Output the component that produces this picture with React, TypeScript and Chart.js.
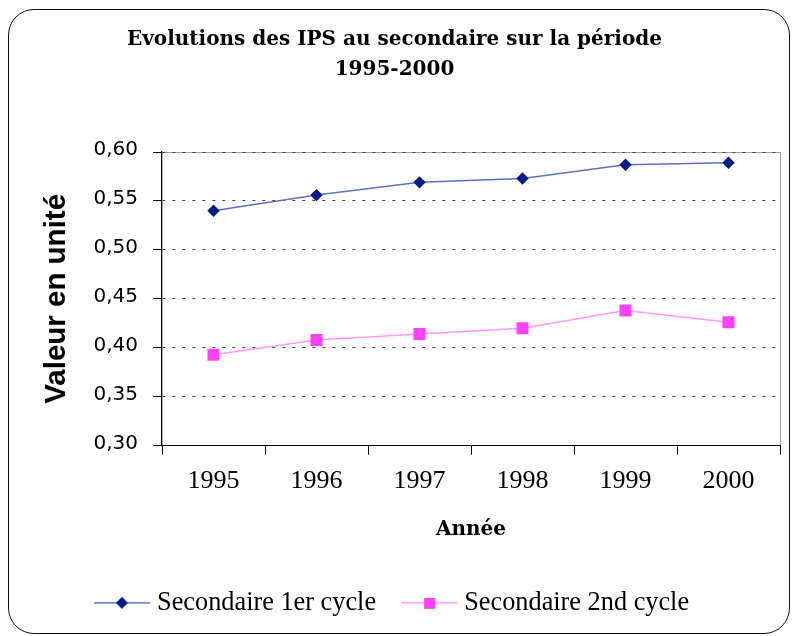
import React, { useEffect, useRef } from 'react';
import { Chart, registerables } from 'chart.js';

Chart.register(...registerables);

const years = ['1995', '1996', '1997', '1998', '1999', '2000'];
const cycle1 = [0.540, 0.556, 0.569, 0.573, 0.587, 0.589];
const cycle2 = [0.393, 0.408, 0.414, 0.420, 0.438, 0.426];
const seriesNames = ['Secondaire 1er cycle', 'Secondaire 2nd cycle'];
const titleLines = ['Evolutions des IPS au secondaire sur la période', '1995-2000'];
const xTitle = 'Année';
const yTitle = 'Valeur en unité';
const yMin = 0.3;
const yMax = 0.6;
const yStep = 0.05;

const C1_LINE = '#5f6fc2';
const C1_MARK = '#001a8c';
const C2_LINE = '#ff99ff';
const C2_MARK = '#ff40ff';

function legendMarker(line: string, fill: string, kind: 'diamond' | 'square') {
  const c = document.createElement('canvas');
  c.width = 56;
  c.height = 18;
  const g = c.getContext('2d')!;
  g.strokeStyle = line;
  g.lineWidth = 1.5;
  g.beginPath();
  g.moveTo(0, 9);
  g.lineTo(56, 9);
  g.stroke();
  g.fillStyle = fill;
  if (kind === 'diamond') {
    g.beginPath();
    g.moveTo(22, 9);
    g.lineTo(28, 3);
    g.lineTo(34, 9);
    g.lineTo(28, 15);
    g.closePath();
    g.fill();
  } else {
    g.fillRect(23, 4, 11, 11);
  }
  return c;
}

const plotFrame = {
  id: 'plotFrame',
  beforeDraw(chart: any) {
    const { ctx, chartArea } = chart;
    if (!chartArea) return;
    const { left, top, right, bottom } = chartArea;
    ctx.save();
    ctx.strokeStyle = '#a0a0a0';
    ctx.lineWidth = 1;
    ctx.beginPath();
    ctx.moveTo(left, Math.round(top) + 0.5);
    ctx.lineTo(Math.round(right) + 0.5, Math.round(top) + 0.5);
    ctx.lineTo(Math.round(right) + 0.5, bottom);
    ctx.stroke();
    ctx.restore();
  },
};

export default function App() {
  const ref = useRef<HTMLCanvasElement>(null);

  useEffect(() => {
    if (!ref.current) return;
    const m1 = legendMarker(C1_LINE, C1_MARK, 'diamond');
    const m2 = legendMarker(C2_LINE, C2_MARK, 'square');
    const chart = new Chart(ref.current, {
      type: 'line',
      data: {
        labels: years,
        datasets: [
          {
            label: seriesNames[0],
            data: cycle1,
            borderColor: C1_LINE,
            borderWidth: 1.5,
            pointStyle: 'rectRot',
            pointRadius: 6.2,
            pointBackgroundColor: C1_MARK,
            pointBorderWidth: 0,
            tension: 0,
          },
          {
            label: seriesNames[1],
            data: cycle2,
            borderColor: C2_LINE,
            borderWidth: 1.5,
            pointStyle: 'rect',
            pointRadius: 8.5,
            pointBackgroundColor: C2_MARK,
            pointBorderWidth: 0,
            tension: 0,
          },
        ],
      },
      options: {
        animation: false,
        responsive: false,
        events: [],
        layout: { padding: { left: 9, right: 12, top: 10, bottom: 10 } },
        plugins: {
          tooltip: { enabled: false },
          title: {
            display: true,
            text: titleLines,
            color: '#000',
            font: { family: 'DejaVu Serif', size: 20, weight: 'bold', lineHeight: 1.5 },
            padding: { top: 15, bottom: 67 },
          },
          legend: {
            position: 'bottom',
            labels: {
              usePointStyle: true,
              pointStyleWidth: 44,
              padding: 31,
              color: '#000',
              font: { family: 'Liberation Serif', size: 26.3 },
              generateLabels: () => [
                {
                  text: seriesNames[0],
                  pointStyle: m1 as any,
                  fillStyle: C1_MARK,
                  strokeStyle: C1_LINE,
                  lineWidth: 0,
                  hidden: false,
                  datasetIndex: 0,
                  fontColor: '#000',
                },
                {
                  text: seriesNames[1],
                  pointStyle: m2 as any,
                  fillStyle: C2_MARK,
                  strokeStyle: C2_LINE,
                  lineWidth: 0,
                  hidden: false,
                  datasetIndex: 1,
                  fontColor: '#000',
                },
              ],
            },
          },
        },
        scales: {
          x: {
            type: 'category',
            offset: true,
            grid: {
              offset: true,
              drawOnChartArea: false,
              drawTicks: true,
              tickLength: 9,
              tickColor: '#000',
              tickBorderDash: [],
            },
            border: { color: '#000', width: 1 },
            ticks: {
              color: '#000',
              font: { family: 'Liberation Serif', size: 26 },
              padding: 11,
              maxRotation: 0,
              autoSkip: false,
            },
            title: {
              display: true,
              text: xTitle,
              color: '#000',
              font: { family: 'DejaVu Serif', size: 20, weight: 'bold', lineHeight: 1.2 },
              padding: { top: 0, bottom: 17 },
            },
            afterFit: (s: any) => {
              s.height = 113;
            },
          },
          y: {
            min: yMin,
            max: yMax,
            grid: {
              color: '#444',
              lineWidth: 1,
              drawTicks: true,
              tickLength: 9,
              tickColor: '#000',
              tickBorderDash: [],
              borderDash: [3, 7],
            } as any,
            border: { color: '#000', width: 1.3, dash: [3, 7] },
            ticks: {
              stepSize: yStep,
              color: '#000',
              font: { family: 'DejaVu Sans', size: 20 },
              padding: 15,
              labelOffset: -2,
              callback: (v: any) => Number(v).toFixed(2).replace('.', ','),
            },
            title: {
              display: true,
              text: yTitle,
              color: '#000',
              font: { family: 'Liberation Sans', size: 29.5, weight: 'bold', lineHeight: 1.2 },
              padding: { top: 30, bottom: 0 },
            },
            afterFit: (s: any) => {
              s.width = 153;
            },
          },
        },
      },
      plugins: [plotFrame],
    } as any);
    return () => chart.destroy();
  }, []);

  return (
    <>
      <canvas
        ref={ref}
        width={792}
        height={636}
        style={{ position: 'fixed', left: 0, top: 0, width: 792, height: 636, display: 'block' }}
      />
      <div
        style={{
          position: 'fixed',
          left: 8,
          top: 9,
          width: 782,
          height: 625,
          boxSizing: 'border-box',
          border: '1.5px solid #111',
          borderRadius: 26,
          pointerEvents: 'none',
        }}
      />
    </>
  );
}
